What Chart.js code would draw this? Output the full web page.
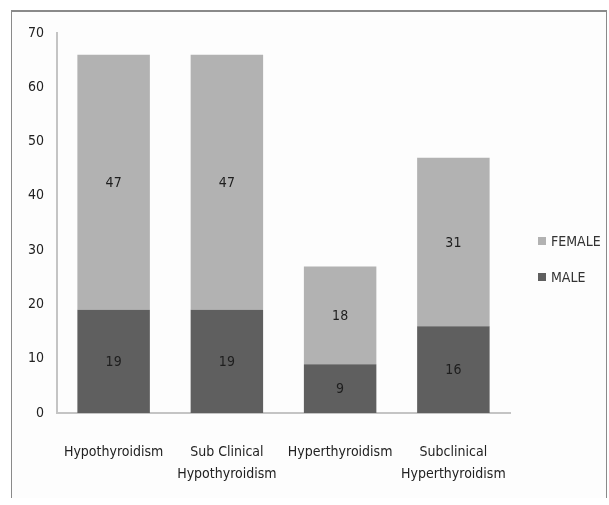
<!DOCTYPE html>
<html>
<head>
<meta charset="utf-8">
<script src="https://cdn.jsdelivr.net/npm/chart.js@4/dist/chart.umd.min.js"></script>
<style>
  html, body { margin: 0; padding: 0; background: #fff; }
  #frame {
    position: absolute; left: 11px; top: 10px; width: 596px; height: 488px;
    border-top: 2px solid #8a8a8a; border-left: 1px solid #8a8a8a; border-right: 1px solid #8a8a8a;
    box-sizing: border-box; background: #fdfdfd;
  }
  #wrap { position: absolute; left: 0; top: 0; width: 609px; height: 505px; }
</style>
</head>
<body>
<div id="frame"></div>
<div id="wrap"><canvas id="c" width="609" height="505"></canvas></div>
<script>
const categories = [
  'Hypothyroidism',
  ['Sub Clinical', 'Hypothyroidism'],
  'Hyperthyroidism',
  ['Subclinical', 'Hyperthyroidism']
];
const maleCounts = [19, 19, 9, 16];
const femaleCounts = [47, 47, 18, 31];
const yTicks = [0, 10, 20, 30, 40, 50, 60, 70];

const FONT = "'DejaVu Sans Condensed', 'Liberation Sans Narrow', sans-serif";
const FONT_SIZE = 14;

// Value labels centred in each stacked segment
const segmentLabels = {
  id: 'segmentLabels',
  afterDatasetsDraw(chart) {
    const ctx = chart.ctx;
    ctx.save();
    ctx.font = FONT_SIZE + 'px ' + FONT;
    ctx.fillStyle = '#1e1e1e';
    ctx.textAlign = 'center';
    ctx.textBaseline = 'middle';
    chart.data.datasets.forEach((ds, i) => {
      chart.getDatasetMeta(i).data.forEach((bar, j) => {
        const p = bar.getProps(['x', 'y', 'base'], true);
        ctx.fillText(String(ds.data[j]), p.x, (p.y + p.base) / 2 + 1);
      });
    });
    ctx.restore();
  }
};

// Legend on the right, upper series first
const sideLegend = {
  id: 'sideLegend',
  afterDraw(chart) {
    const ctx = chart.ctx;
    ctx.save();
    ctx.font = FONT_SIZE + 'px ' + FONT;
    ctx.textBaseline = 'middle';
    ctx.textAlign = 'left';
    const items = chart.data.datasets.slice().reverse();
    items.forEach((ds, k) => {
      const y = 241 + k * 36;
      ctx.fillStyle = ds.backgroundColor;
      ctx.fillRect(538, y - 4, 8, 8);
      ctx.fillStyle = '#333';
      ctx.fillText(ds.label, 551, y + 1);
    });
    ctx.restore();
  }
};

new Chart(document.getElementById('c'), {
  type: 'bar',
  data: {
    labels: categories,
    datasets: [
      { label: 'MALE', data: maleCounts, backgroundColor: '#5f5f5f', borderWidth: 0 },
      { label: 'FEMALE', data: femaleCounts, backgroundColor: '#b2b2b2', borderWidth: 0 }
    ]
  },
  options: {
    responsive: false,
    animation: false,
    devicePixelRatio: 1,
    layout: { padding: { left: 0, right: 99, top: 33, bottom: 0 } },
    plugins: { legend: { display: false }, tooltip: { enabled: false } },
    datasets: { bar: { barPercentage: 0.64, categoryPercentage: 1.0 } },
    scales: {
      x: {
        stacked: true,
        grid: { display: false, drawTicks: false },
        border: { display: true, color: '#c4c4c4', width: 2 },
        ticks: { font: { family: FONT, size: FONT_SIZE, lineHeight: 1.6 }, color: '#222', padding: 28, maxRotation: 0, autoSkip: false },
        afterFit(scale) { scale.height = 92; }
      },
      y: {
        stacked: true,
        min: 0, max: 70,
        afterBuildTicks(scale) { scale.ticks = yTicks.map(v => ({ value: v })); },
        grid: { display: false, drawTicks: false },
        border: { display: true, color: '#c4c4c4', width: 2 },
        ticks: { font: { family: FONT, size: FONT_SIZE }, color: '#222', padding: 13 },
        afterFit(scale) { scale.width = 57; }
      }
    }
  },
  plugins: [segmentLabels, sideLegend]
});
</script>
</body>
</html>
